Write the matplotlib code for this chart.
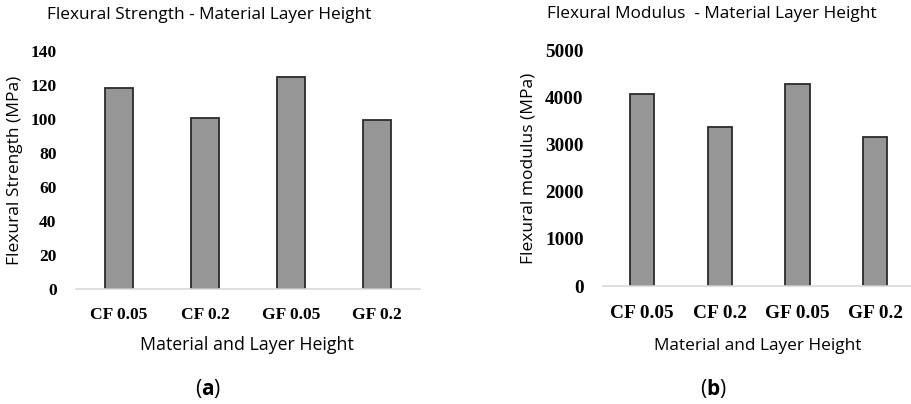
import matplotlib.pyplot as plt

plt.rcParams['mathtext.fontset'] = 'custom'
plt.rcParams['mathtext.rm'] = 'Open Sans'
plt.rcParams['mathtext.bf'] = 'Open Sans:bold'

# data
categories = ['CF 0.05', 'CF 0.2', 'GF 0.05', 'GF 0.2']
strength = [118.5, 100.5, 125, 99.5]
modulus = [4080, 3370, 4290, 3160]
strength_ticks = [0, 20, 40, 60, 80, 100, 120, 140]
modulus_ticks = [0, 1000, 2000, 3000, 4000, 5000]

sans = 'Open Sans'
serif = 'Liberation Serif'
bar_color = '#969696'
edge_color = '#2b2b2b'

fig = plt.figure(figsize=(9.11, 4.04), dpi=100)
ax1 = fig.add_axes([0.0834, 0.2847, 0.3776, 0.589])
ax2 = fig.add_axes([0.662, 0.292, 0.3414, 0.584])


def style(ax, ticks, tick_size, pad_x, pad_y):
    for s in ['top', 'right', 'left']:
        ax.spines[s].set_visible(False)
    ax.spines['bottom'].set_color('#d9d9d9')
    ax.spines['bottom'].set_linewidth(1.2)
    ax.set_yticks(ticks)
    ax.set_ylim(ticks[0], ticks[-1])
    ax.set_xlim(-0.5, 3.5)
    ax.tick_params(length=0)
    ax.tick_params(axis='x', pad=pad_x)
    ax.tick_params(axis='y', pad=pad_y)
    for lab in ax.get_xticklabels() + ax.get_yticklabels():
        lab.set_fontfamily(serif)
        lab.set_fontweight('bold')
        lab.set_fontsize(tick_size)


x = range(len(categories))

ax1.bar(x, strength, width=0.33, color=bar_color, edgecolor=edge_color, linewidth=1.3)
ax1.set_xticks(list(x))
ax1.set_xticklabels(categories)
style(ax1, strength_ticks, 12.6, 13, 14)
ax1.set_ylabel('Flexural Strength (MPa)', fontfamily=sans, fontsize=12.5, va='center')
ax1.yaxis.set_label_coords(-0.177, 0.5)
ax1.set_xlabel('Material and Layer Height', fontfamily=sans, fontsize=12.8, va='center')
ax1.xaxis.set_label_coords(0.497, -0.235)

ax2.bar(x, modulus, width=0.31, color=bar_color, edgecolor=edge_color, linewidth=1.3)
ax2.set_xticks(list(x))
ax2.set_xticklabels(categories)
style(ax2, modulus_ticks, 13.9, 14, 14)
ax2.set_ylabel('Flexural modulus (MPa)', fontfamily=sans, fontsize=12.5, va='center')
ax2.yaxis.set_label_coords(-0.241, 0.5)
ax2.set_xlabel('Material and Layer Height', fontfamily=sans, fontsize=12.4, va='center')
ax2.xaxis.set_label_coords(0.498, -0.254)

fig.text(209 / 911, 1 - 15 / 404, 'Flexural Strength - Material Layer Height',
         ha='center', va='center', fontfamily=sans, fontsize=12.4)
fig.text(712 / 911, 1 - 14 / 404, 'Flexural Modulus  - Material Layer Height',
         ha='center', va='center', fontfamily=sans, fontsize=12.4)

fig.text(208 / 911, 1 - 388 / 404, r'($\mathbf{a}$)', ha='center', va='center',
         fontfamily=sans, fontsize=15)
fig.text(713 / 911, 1 - 388 / 404, r'($\mathbf{b}$)', ha='center', va='center',
         fontfamily=sans, fontsize=15)

fig.savefig('out.png', dpi=100)
